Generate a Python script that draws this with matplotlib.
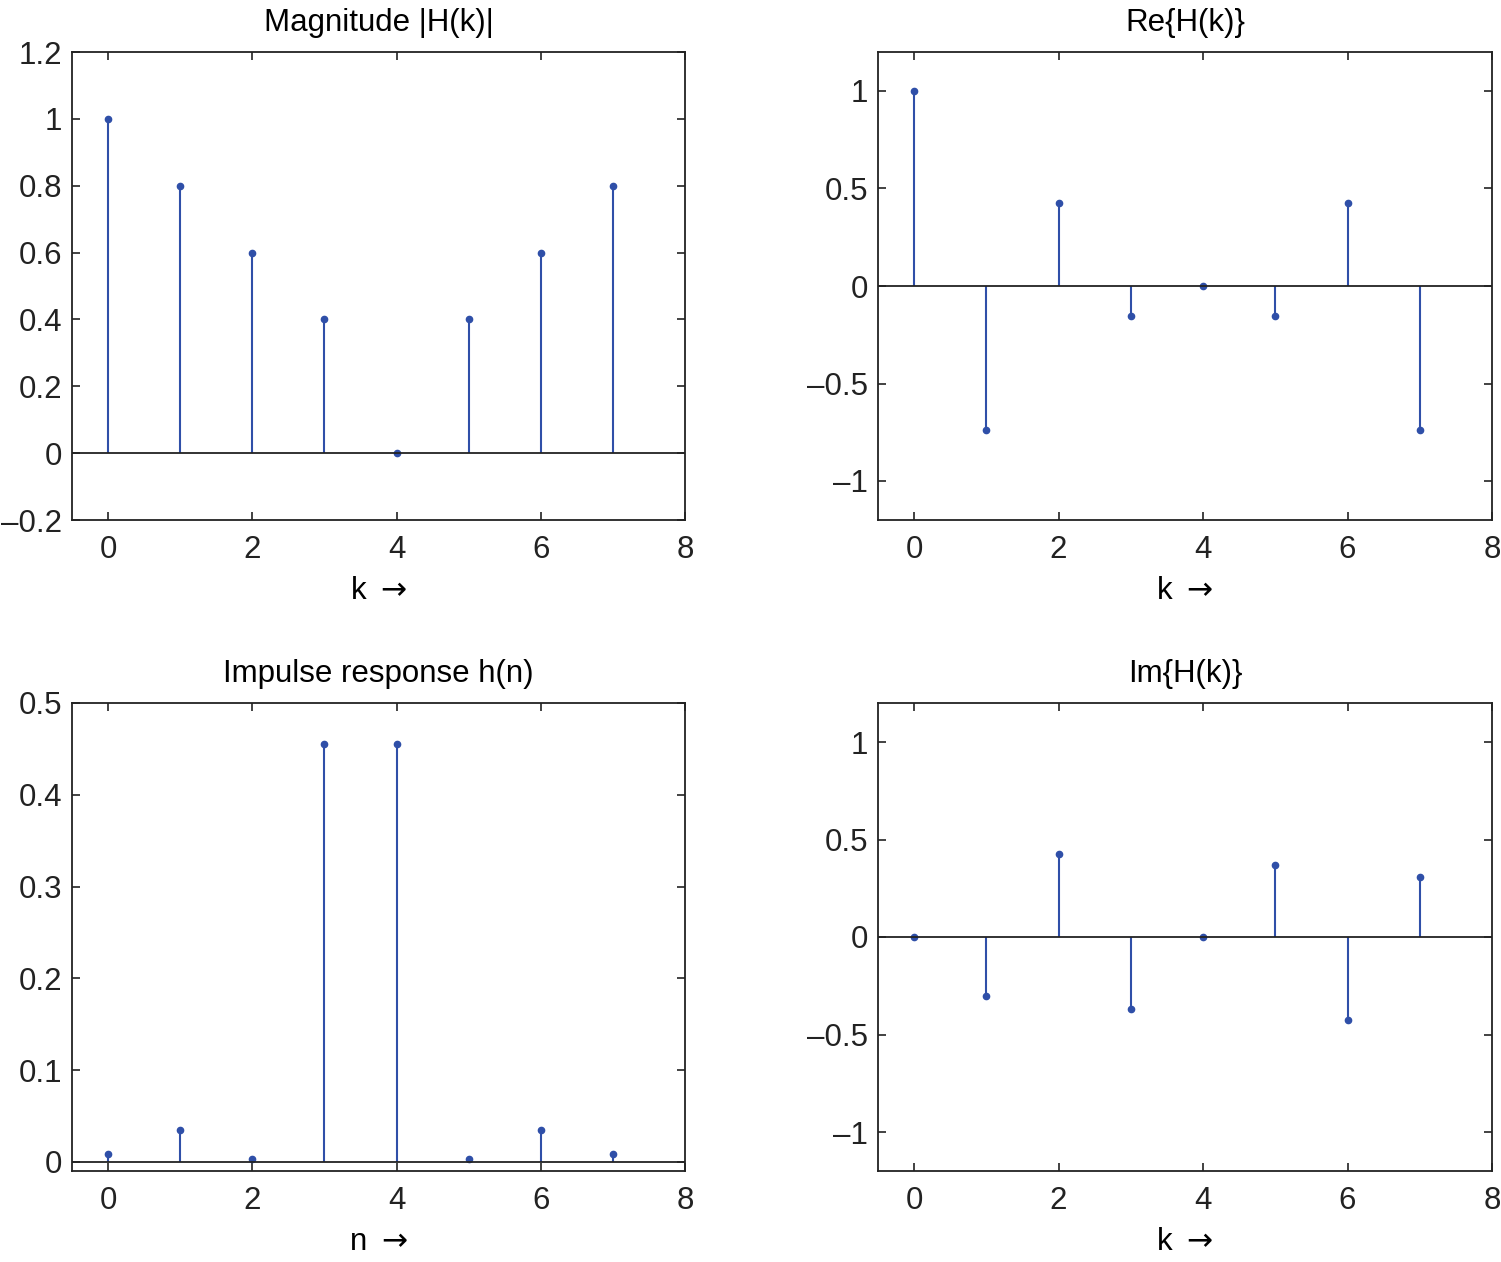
import matplotlib
matplotlib.use("Agg")
import matplotlib.pyplot as plt
import numpy as np

plt.rcParams["font.family"] = ["Liberation Sans", "DejaVu Sans"]
plt.rcParams["font.size"] = 22.5

# data
k = [0, 1, 2, 3, 4, 5, 6, 7]
mag = [1.0, 0.8, 0.6, 0.4, 0.0, 0.4, 0.6, 0.8]
re_h = [1.0, -0.738, 0.426, -0.154, 0.0, -0.154, 0.426, -0.738]
im_h = [0.0, -0.303, 0.426, -0.369, 0.0, 0.369, -0.426, 0.308]
h_n = [0.008, 0.035, 0.003, 0.455, 0.455, 0.003, 0.035, 0.008]

STEM_COLOR = "#2f4fa8"
FS = 22.5

fig = plt.figure(figsize=(15.01, 12.62), dpi=100)
W, H = 1501, 1262


def make_ax(x0, y0, x1, y1):
    return fig.add_axes([x0 / W, 1 - y1 / H, (x1 - x0) / W, (y1 - y0) / H])


def stem_plot(ax, x, y, title, xlabel, ylim, yticks, yticklabels):
    ml, sl, bl = ax.stem(x, y, basefmt="k-")
    plt.setp(ml, color=STEM_COLOR, markersize=4.5)
    plt.setp(sl, color=STEM_COLOR, linewidth=1.5)
    plt.setp(bl, color="#222222", linewidth=1.3)
    bl.set_xdata([-0.5, 8])
    ax.set_xlim(-0.5, 8)
    ax.set_ylim(*ylim)
    ax.set_xticks([0, 2, 4, 6, 8])
    ax.set_yticks(yticks)
    ax.set_yticklabels(yticklabels)
    ax.set_title(title, fontsize=FS, pad=15)
    ax.set_xlabel(xlabel, fontsize=FS, labelpad=8)
    ax.tick_params(direction="in", top=True, right=True, length=6, width=1.2,
                   labelsize=FS, colors="#222222")
    ax.tick_params(axis="x", pad=11)
    ax.tick_params(axis="y", pad=7)
    for s in ax.spines.values():
        s.set_linewidth(1.3)
        s.set_color("#222222")


ax1 = make_ax(72, 52, 685, 520)
stem_plot(ax1, k, mag, "Magnitude |H(k)|", r"k $\rightarrow$", (-0.2, 1.2),
          [-0.2, 0, 0.2, 0.4, 0.6, 0.8, 1, 1.2],
          ["\u20130.2", "0", "0.2", "0.4", "0.6", "0.8", "1", "1.2"])

ax2 = make_ax(878, 52, 1492, 520)
stem_plot(ax2, k, re_h, "Re{H(k)}", r"k $\rightarrow$", (-1.2, 1.2),
          [-1, -0.5, 0, 0.5, 1],
          ["\u20131", "\u20130.5", "0", "0.5", "1"])

ax3 = make_ax(72, 703, 685, 1171)
stem_plot(ax3, k, h_n, "Impulse response h(n)", r"n $\rightarrow$", (-0.01, 0.5),
          [0, 0.1, 0.2, 0.3, 0.4, 0.5],
          ["0", "0.1", "0.2", "0.3", "0.4", "0.5"])

ax4 = make_ax(878, 703, 1492, 1171)
stem_plot(ax4, k, im_h, "Im{H(k)}", r"k $\rightarrow$", (-1.2, 1.2),
          [-1, -0.5, 0, 0.5, 1],
          ["\u20131", "\u20130.5", "0", "0.5", "1"])

fig.savefig("out.png", dpi=100)
